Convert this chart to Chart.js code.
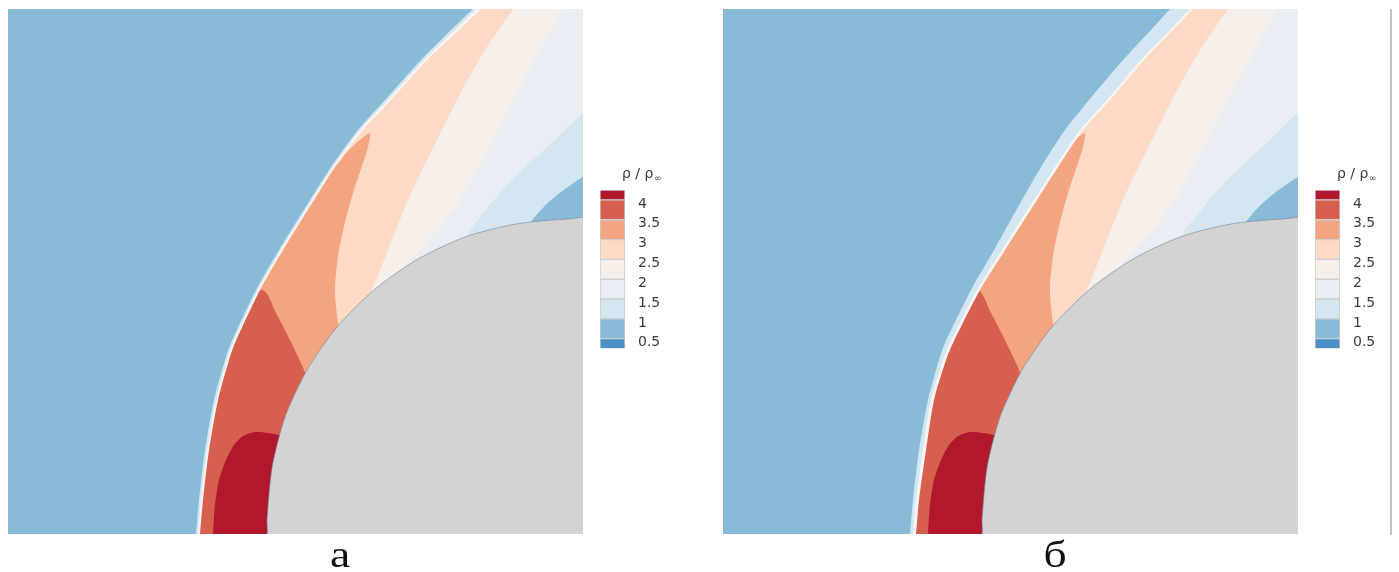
<!DOCTYPE html>
<html>
<head>
<meta charset="utf-8">
<script src="https://cdn.jsdelivr.net/npm/chart.js@4.4.1/dist/chart.umd.min.js"></script>
<style>
  html, body { margin: 0; padding: 0; background: #fff; }
  body { position: relative; width: 1399px; height: 572px; overflow: hidden; }
  canvas { position: absolute; }
  #rule { position: absolute; left: 1390px; top: 9px; height: 526px; border-left: 2px solid #c4c4c4; }
</style>
</head>
<body>
<canvas id="fieldA" width="575" height="563" style="left:8px;top:9px"></canvas>
<canvas id="scaleA" width="85" height="205" style="left:590px;top:165px"></canvas>
<canvas id="fieldB" width="575" height="563" style="left:723px;top:9px"></canvas>
<canvas id="scaleB" width="85" height="205" style="left:1305px;top:165px"></canvas>
<div id="rule"></div>
<script>
// contour levels of rho / rho_inf and the colour of each band between them
const levels = [0.25, 0.5, 1, 1.5, 2, 2.5, 3, 3.5, 4, 4.25];
const bandColors = ['#4a8fc5', '#89bad8', '#d3e6f1', '#e8eef3', '#f6efea', '#fcdac6', '#f3a581', '#d6604d', '#b2182b'];
const tickValues = [0.5, 1, 1.5, 2, 2.5, 3, 3.5, 4];
const bodyColor = '#d3d3d3';
const shockLineColor = '#f7f6f5';

// shock front, x at each y (picture frame of the panel)
const shockY    = [545, 534, 500, 450, 400, 360, 343, 290, 250, 200, 167, 130, 100, 60, 30, 9, 0];
const shockOutA = [195, 196, 199, 205, 214, 225, 231, 256, 279, 310, 331, 358, 385, 421, 451, 473, 483];
const shockMidA = [197, 198, 201, 207, 216, 227, 233, 258, 281, 312, 333, 360, 388, 424, 455, 477, 488];
const shockInA  = [199, 200, 203, 209, 218, 229, 235, 260, 283, 314, 335, 363, 391, 427, 459, 481, 492];
const shockOutB = [194, 195, 198, 204, 213, 224, 230, 256, 279, 307, 326, 350, 374, 408, 436, 455, 464];
const shockMidB = [196, 198, 201, 208, 216, 228, 235, 262, 287, 319, 340, 365, 392, 426, 455, 475, 485];
const shockInB  = [199, 201, 204, 211, 219, 231, 238, 265, 290, 322, 343, 368, 395, 429, 458, 478, 488];

// regions above each level (closed outlines)
const whole = [[0, 545], [0, -20], [600, -20], [600, 545]];
const ge15 = [[0, 545], [0, -20], [600, -20], [600, 105], [583, 113], [555, 140], [533, 160], [512, 180], [494, 200], [480, 218], [468, 237], [600, 545]];
const ge2 = [[0, 545], [0, -20], [575, -20], [568, 0], [563, 9], [540, 50], [513, 100], [488, 150], [460, 200], [440, 228], [420, 250], [407, 266], [420, 290], [600, 545]];
const ge25 = [[0, 545], [0, -20], [522, -20], [517, 0], [513, 9], [485, 50], [457, 100], [432, 150], [408, 200], [388, 250], [377, 278], [372, 292], [385, 320], [600, 545]];
const ge3 = [[0, 545], [0, 168], [332, 168], [346, 153], [360, 140], [370, 133], [368, 147], [362, 166], [354, 190], [345, 222], [338, 256], [335, 290], [338, 322], [345, 345], [600, 545]];
const ge35 = [[0, 545], [0, 290], [262, 290], [276, 313], [290, 340], [302, 365], [312, 385], [600, 545]];
const ge4 = [[213, 545], [213, 534], [215, 505], [219, 480], [226, 460], [234, 445], [243, 436], [255, 432], [268, 433], [282, 437], [300, 480], [300, 545]];
const pocket = [[530, 223], [539, 212], [550, 201], [565, 189], [583, 177], [600, 170], [600, 260]];
const body = [[260, 545], [267, 534], [267, 520], [272, 468], [285, 417], [307, 370], [337, 327], [375, 289], [418, 259], [465, 237], [516, 224], [568, 219], [600, 220], [600, 545]];

Chart.defaults.font.family = 'DejaVu Sans';

function pts(list) {
  return list.map(([x, y]) => ({ x, y }));
}

function leftOf(xs) {
  return [{ x: -20, y: -20 }, { x: -20, y: 545 }]
    .concat(shockY.map((y, i) => ({ x: xs[i], y })))
    .concat([{ x: 700, y: -20 }]);
}

// panel letter under each field, drawn a little wide like the scanned original
const panelLabel = {
  id: 'panelLabel',
  afterDraw(chart, args, opts) {
    const ctx = chart.ctx;
    ctx.save();
    ctx.fillStyle = '#111';
    ctx.font = '38px "Liberation Serif"';
    ctx.textAlign = 'center';
    ctx.textBaseline = 'alphabetic';
    ctx.translate(opts.x, opts.y);
    ctx.scale(1.2, 1);
    ctx.fillText(opts.text, 0, 0);
    ctx.restore();
  }
};

function fieldChart(id, label, out, mid, inner) {
  const layers = [
    [pts(whole), bandColors[2]],
    [pts(ge15), bandColors[3]],
    [pts(ge2), bandColors[4]],
    [pts(ge25), bandColors[5]],
    [pts(ge3), bandColors[6]],
    [pts(ge35), bandColors[7]],
    [pts(ge4), bandColors[8]],
    [pts(pocket), bandColors[1]],
    [leftOf(inner), shockLineColor],
    [leftOf(mid), bandColors[2]],
    [leftOf(out), bandColors[1]],
    [pts(body), bodyColor]
  ];
  const n = layers.length;
  const datasets = layers.map(([data, color], i) => ({
    data,
    backgroundColor: color,
    borderColor: i === n - 1 ? 'rgba(105,125,150,0.55)' : 'transparent',
    borderWidth: i === n - 1 ? 1 : 0,
    fill: 'shape',
    pointRadius: 0,
    clip: 0,
    order: n - i
  }));

  new Chart(document.getElementById(id), {
    type: 'line',
    data: { datasets },
    options: {
      responsive: false,
      animation: false,
      events: [],
      layout: { padding: { bottom: 38 } },
      elements: { line: { tension: 0.25, capBezierPoints: false } },
      scales: {
        x: { type: 'linear', min: 8, max: 583, display: false },
        y: { type: 'linear', min: 9, max: 534, reverse: true, display: false }
      },
      plugins: {
        legend: { display: false },
        tooltip: { enabled: false },
        panelLabel: { text: label, x: 332, y: 558 }
      }
    },
    plugins: [panelLabel]
  });
}

const legendTitle = {
  id: 'legendTitle',
  afterDraw(chart) {
    const ctx = chart.ctx;
    ctx.save();
    ctx.fillStyle = '#3a3a3a';
    ctx.textBaseline = 'alphabetic';
    ctx.font = '14px "DejaVu Sans"';
    const main = 'ρ / ρ';
    ctx.fillText(main, 32, 13);
    const w = ctx.measureText(main).width;
    ctx.font = '9px "DejaVu Sans"';
    ctx.fillText('∞', 32 + w + 0.5, 16);
    ctx.restore();
  }
};

function scaleChart(id) {
  new Chart(document.getElementById(id), {
    type: 'bar',
    data: {
      labels: [''],
      datasets: bandColors.map((c, i) => ({
        data: [[levels[i], levels[i + 1]]],
        backgroundColor: c,
        borderColor: '#cdcdcd',
        borderWidth: 1,
        borderSkipped: false,
        grouped: false,
        categoryPercentage: 1,
        barPercentage: 1
      }))
    },
    options: {
      responsive: false,
      animation: false,
      events: [],
      layout: { padding: { top: 25, bottom: 17, left: 10, right: 0 } },
      scales: {
        x: { display: false },
        y: {
          position: 'right',
          min: 0.25,
          max: 4.25,
          grid: { display: false, drawTicks: false },
          border: { display: false },
          afterBuildTicks: s => { s.ticks = tickValues.map(v => ({ value: v })); },
          afterFit: s => { s.width = 50; },
          ticks: {
            padding: 13,
            labelOffset: 4,
            color: '#3a3a3a',
            font: { size: 14, family: 'DejaVu Sans' },
            callback: v => String(v)
          }
        }
      },
      plugins: { legend: { display: false }, tooltip: { enabled: false } }
    },
    plugins: [legendTitle]
  });
}

fieldChart('fieldA', 'а', shockOutA, shockMidA, shockInA);
fieldChart('fieldB', 'б', shockOutB, shockMidB, shockInB);
scaleChart('scaleA');
scaleChart('scaleB');
</script>
</body>
</html>
